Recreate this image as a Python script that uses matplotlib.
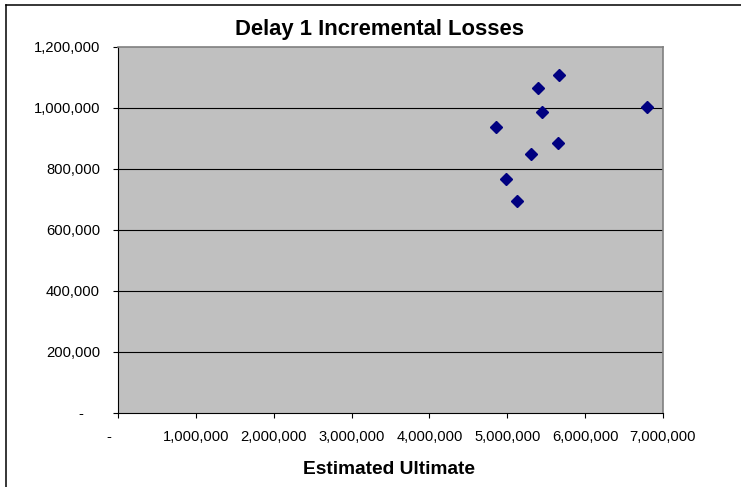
import matplotlib.pyplot as plt
from matplotlib.lines import Line2D
from matplotlib.ticker import FuncFormatter, MultipleLocator

plt.rcParams["font.family"] = ["Liberation Sans", "DejaVu Sans"]

# Estimated ultimate vs. delay-1 incremental losses
estimated_ultimate = [4860000, 4985000, 5120000, 5310000, 5390000, 5440000, 5645000, 5660000, 6790000]
incremental_losses = [938000, 767000, 693000, 849000, 1063000, 986000, 884000, 1108000, 1001000]

x_max = 7000000
y_max = 1200000

W, H = 741, 487
fig = plt.figure(figsize=(W / 100, H / 100), dpi=100)
ax = fig.add_axes([118 / W, 1 - 413 / H, 545 / W, 366.5 / H])
ax.set_facecolor("#C0C0C0")

ax.set_xlim(0, x_max)
ax.set_ylim(0, y_max)
ax.xaxis.set_major_locator(MultipleLocator(1000000))
ax.yaxis.set_major_locator(MultipleLocator(200000))

for y in range(200000, y_max, 200000):
    ax.axhline(y, color="black", lw=0.8, zorder=1)

ax.plot(estimated_ultimate, incremental_losses, linestyle="none", marker="D",
        markersize=6.6, color="#000080", markeredgecolor="#000080", zorder=3)


def x_fmt(v, pos):
    return "-    " if v == 0 else f"{v:,.0f}"


def y_fmt(v, pos):
    return "-    " if v == 0 else f"{v:,.0f}"


ax.xaxis.set_major_formatter(FuncFormatter(x_fmt))
ax.yaxis.set_major_formatter(FuncFormatter(y_fmt))
ax.tick_params(axis="both", direction="out", length=3.5, width=0.8, color="black",
               labelsize=10.6, labelcolor="black")
ax.tick_params(axis="x", pad=9)
ax.tick_params(axis="y", pad=9.5)

for side in ("top", "right"):
    ax.spines[side].set_color("#808080")
    ax.spines[side].set_linewidth(1.2)
for side in ("left", "bottom"):
    ax.spines[side].set_color("black")
    ax.spines[side].set_linewidth(0.8)

fig.text(380 / W, 1 - 30 / H, "Delay 1 Incremental Losses", ha="center", va="center",
         fontsize=15.8, fontweight="bold")
fig.text(389 / W, 1 - 470 / H, "Estimated Ultimate", ha="center", va="center",
         fontsize=13.8, fontweight="bold")

# chart area border (left and top edges)
fig.add_artist(Line2D([6 / W, 6 / W], [0, 1 - 5 / H], transform=fig.transFigure,
                      color="black", lw=1.1))
fig.add_artist(Line2D([6 / W, 1], [1 - 5 / H, 1 - 5 / H], transform=fig.transFigure,
                      color="black", lw=1.1))

fig.savefig("out.png", dpi=100)
